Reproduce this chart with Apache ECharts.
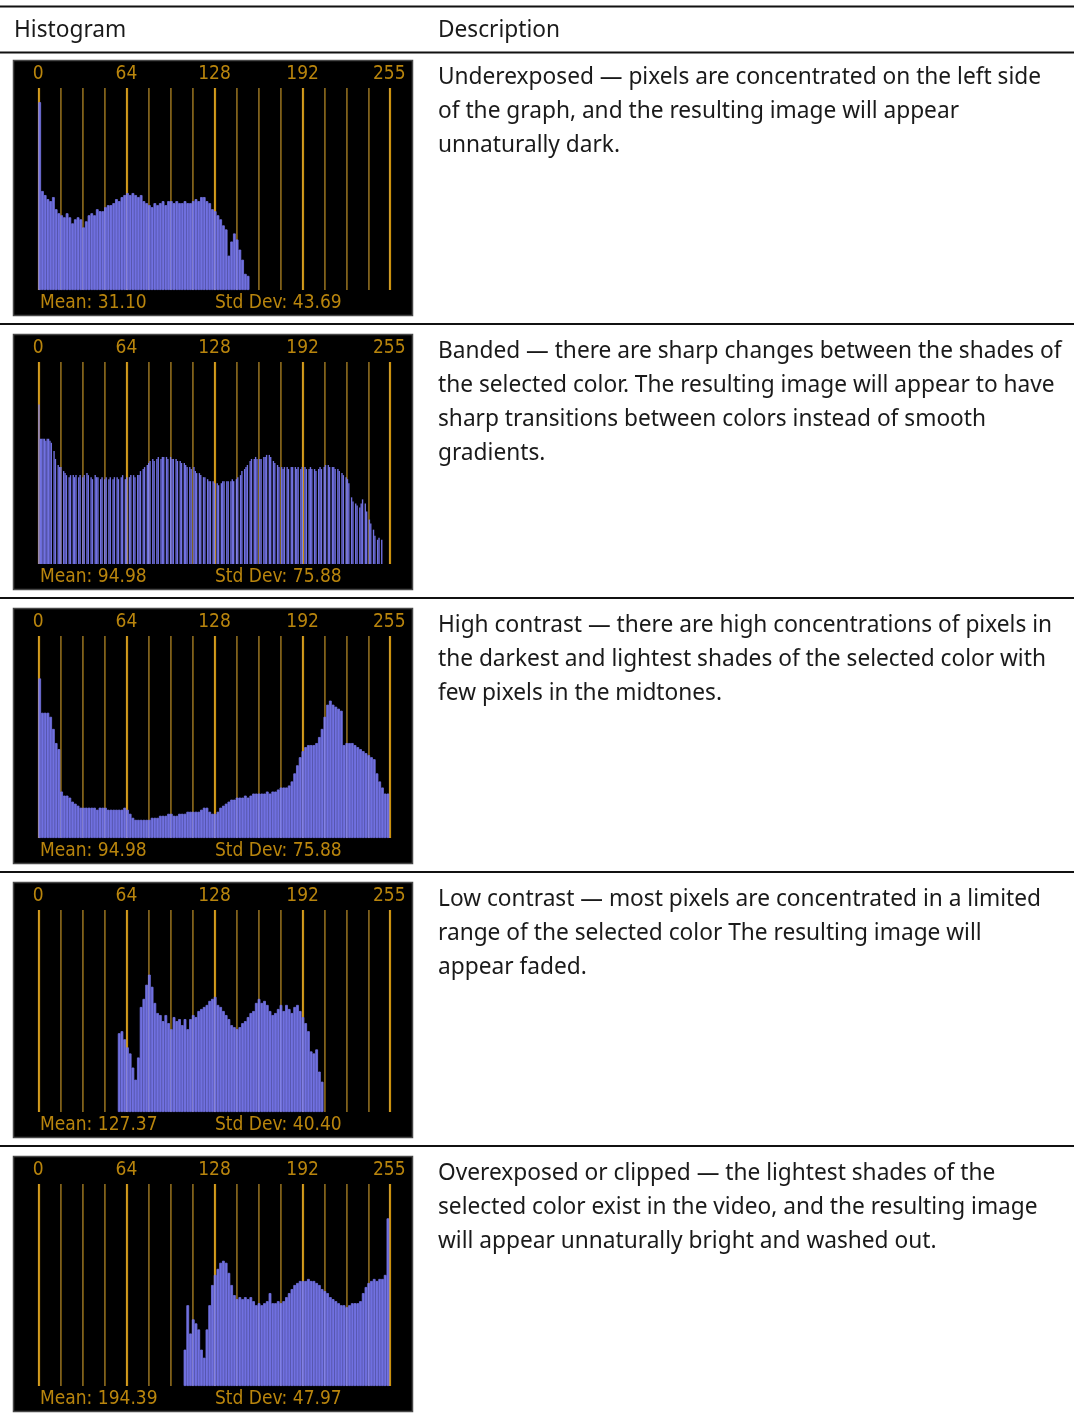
<!DOCTYPE html>
<html><head><meta charset="utf-8">
<script src="https://cdn.jsdelivr.net/npm/echarts@6/dist/echarts.min.js"></script>
<style>html,body{margin:0;padding:0;background:#fff}#c{width:1074px;height:1416px}</style>
</head><body><div id="c"></div><script>
// ---- data ----
const tickLabels = [0, 64, 128, 192, 255];
const gridLevels = [0, 16, 32, 48, 64, 80, 96, 112, 128, 144, 160, 176, 192, 208, 224, 240, 255];
const headers = ['Histogram', 'Description'];
const descriptions = [
  'Underexposed \u2014 pixels are concentrated on the left side\nof the graph, and the resulting image will appear\nunnaturally dark.',
  'Banded \u2014 there are sharp changes between the shades of\nthe selected color. The resulting image will appear to have\nsharp transitions between colors instead of smooth\ngradients.',
  'High contrast \u2014 there are high concentrations of pixels in\nthe darkest and lightest shades of the selected color with\nfew pixels in the midtones.',
  'Low contrast \u2014 most pixels are concentrated in a limited\nrange of the selected color The resulting image will\nappear faded.',
  'Overexposed or clipped \u2014 the lightest shades of the\nselected color exist in the video, and the resulting image\nwill appear unnaturally bright and washed out.'
];
const means = ['31.10', '94.98', '94.98', '127.37', '194.39'];
const stdDevs = ['43.69', '75.88', '75.88', '40.40', '47.97'];

// histogram counts (relative height, 2 levels per bin unless noted)
const underexposed = [
  93,49,47,45,44,46,40,38,37,36,38,36,33,35,36,35,
  31,34,37,38,37,40,39,39,41,42,42,43,45,44,46,47,
  48,47,48,47,46,47,44,43,42,41,43,42,43,44,42,44,
  44,43,44,43,43,44,43,43,44,45,44,46,46,44,43,40,
  39,37,35,32,30,17,24,28,25,20,15,8,7,0,0,0,
  0,0,0,0,0,0,0,0,0,0,0,0,0,0,0,0,
  0,0,0,0,0,0,0,0,0,0,0,0,0,0,0,0,
  0,0,0,0,0,0,0,0,0,0,0,0,0,0,0,0
];
// banded: one level per bin (256 bins), empty levels are 0
const banded = [
  79,62,62,62,62,61,62,62,61,60,0,56,52,0,49,48,
  48,0,46,45,44,0,43,44,0,44,43,44,0,43,44,0,
  43,44,0,45,44,0,43,42,0,44,43,43,0,42,43,0,
  42,43,0,42,43,0,42,43,0,43,42,0,43,44,0,42,
  43,0,43,44,0,44,43,0,44,44,46,0,47,48,0,49,
  50,51,0,52,51,0,52,53,0,52,53,53,0,53,52,0,
  53,52,52,0,52,51,0,51,50,0,50,49,48,0,48,47,
  0,48,46,45,0,45,44,0,43,43,0,42,41,41,0,41,
  40,0,40,39,0,40,41,41,0,41,41,0,41,42,41,0,
  42,43,0,44,46,0,47,48,49,0,51,52,0,52,53,52,
  0,52,52,0,53,53,54,0,54,53,0,51,50,0,49,48,
  0,48,47,48,0,48,47,0,48,48,0,48,47,48,0,47,
  48,0,48,47,0,47,48,47,0,47,46,0,47,48,47,0,
  48,49,0,49,48,0,48,48,47,0,47,46,0,45,44,0,
  43,42,40,0,33,31,0,30,29,0,28,30,32,0,30,26,
  0,22,20,0,17,14,0,12,13,0,12,0,0,0,0,0
];
const highContrast = [
  79,62,62,62,60,54,47,44,23,21,21,20,18,17,16,15,
  15,15,15,15,15,14,15,15,15,14,14,14,14,14,14,15,
  14,12,10,9,9,9,9,9,9,10,10,10,11,11,11,12,
  12,11,11,12,12,12,13,13,13,13,13,14,15,15,13,12,
  12,13,15,16,17,18,19,19,20,20,20,21,20,21,22,22,
  22,22,22,23,22,23,23,24,25,25,25,26,28,32,36,40,
  43,45,46,46,46,47,50,54,60,66,68,66,65,64,63,46,
  47,47,47,46,45,44,43,42,41,40,39,32,28,25,22,22
];
const lowContrast = [
  0,0,0,0,0,0,0,0,0,0,0,0,0,0,0,0,
  0,0,0,0,0,0,0,0,0,0,0,0,0,39,40,36,
  32,29,22,16,27,52,56,63,68,62,54,49,48,45,48,44,
  41,47,45,46,43,46,41,46,48,47,50,51,52,53,55,56,
  57,53,52,50,48,46,43,42,41,42,44,45,47,49,50,54,
  56,54,55,53,50,48,49,51,53,50,53,51,49,52,53,50,
  47,44,40,30,29,31,20,15,0,0,0,0,0,0,0,0,
  0,0,0,0,0,0,0,0,0,0,0,0,0,0,0,0
];
const overexposed = [
  0,0,0,0,0,0,0,0,0,0,0,0,0,0,0,0,
  0,0,0,0,0,0,0,0,0,0,0,0,0,0,0,0,
  0,0,0,0,0,0,0,0,0,0,0,0,0,0,0,0,
  0,0,0,0,0,18,40,26,33,31,28,18,14,28,40,50,
  55,58,61,62,61,56,50,45,43,44,43,44,43,44,42,40,
  41,40,41,42,46,41,41,42,41,42,44,46,48,50,51,52,
  52,52,53,52,52,51,50,48,47,46,44,43,42,41,40,40,
  39,40,41,41,41,42,46,49,51,52,53,52,53,53,55,83
];
const histograms = [underexposed, banded, highContrast, lowContrast, overexposed];

// ---- styling / layout ----
const ROW = 274, TOP0 = 60;
const barColor = '#7171e1';
const majorColor = '#c98f0c', minorColor = '#85600a', labelColor = '#b9850d';
const narrow = "'Liberation Sans Narrow','DejaVu Sans Condensed','Arial Narrow',sans-serif";
const bodyFont = "'Noto Sans','Open Sans',sans-serif";
const bodySize = 22.7;

const grids = [], xAxes = [], yAxes = [], series = [], graphics = [];
graphics.push({type:'line', shape:{x1:0,y1:6.5,x2:1074,y2:6.5}, style:{stroke:'#111',lineWidth:2}, z:10});
graphics.push({type:'line', shape:{x1:0,y1:52.5,x2:1074,y2:52.5}, style:{stroke:'#111',lineWidth:2}, z:10});
graphics.push({type:'text', x:14, y:31, style:{text:headers[0], fill:'#1a1a1a', fontSize:bodySize, fontFamily:bodyFont, verticalAlign:'middle'}, z:10});
graphics.push({type:'text', x:438, y:31, style:{text:headers[1], fill:'#1a1a1a', fontSize:bodySize, fontFamily:bodyFont, verticalAlign:'middle'}, z:10});

histograms.forEach((h, k) => {
  const T = TOP0 + ROW * k;
  const isBanded = h.length > 128;
  const bw = isBanded ? 0 : 0.8;
  if (k > 0) graphics.push({type:'line', shape:{x1:0,y1:T-10,x2:1074,y2:T-10}, style:{stroke:'#111',lineWidth:2}, z:10});
  graphics.push({type:'rect', shape:{x:13.5,y:T+0.5,width:399,height:255}, style:{fill:'#000',stroke:'#474747',lineWidth:1.5}, z:-10});
  graphics.push({type:'text', x:40, y:T+243, style:{text:'Mean: ' + means[k], fill:labelColor, fontSize:19, fontFamily:narrow, verticalAlign:'middle'}, z:10});
  graphics.push({type:'text', x:215, y:T+243, style:{text:'Std Dev: ' + stdDevs[k], fill:labelColor, fontSize:19, fontFamily:narrow, verticalAlign:'middle'}, z:10});
  graphics.push({type:'text', x:438, y:T+1, style:{text:descriptions[k], fill:'#1a1a1a', fontSize:bodySize, lineHeight:34, fontFamily:bodyFont, verticalAlign:'top'}, z:10});

  grids.push({left:38.3, top:T+28, width:351, height:202});
  xAxes.push({type:'value', gridIndex:k, min:0, max:255, position:'top',
    axisLine:{show:false}, axisTick:{show:false}, splitLine:{show:false},
    axisLabel:{customValues:tickLabels, color:labelColor, fontSize:19, fontFamily:narrow, margin:4}});
  xAxes.push({type:'category', gridIndex:k, data:h.map((_, i) => i), show:false});
  yAxes.push({type:'value', gridIndex:k, min:0, max:100, show:false});

  const lineData = gridLevels.map(v => ({xAxis:v, lineStyle:{
    color: tickLabels.includes(v) ? majorColor : minorColor,
    width: tickLabels.includes(v) ? 2.2 : 1.6, type:'solid'}}));
  series.push({type:'line', xAxisIndex:2*k, yAxisIndex:k, data:[[0,0]], showSymbol:false,
    lineStyle:{opacity:0}, z:1, silent:true,
    markLine:{silent:true, symbol:'none', z:1, label:{show:false}, animation:false, data:lineData}});
  series.push({type:'bar', xAxisIndex:2*k+1, yAxisIndex:k,
    data:h.map(v => v > 0 ? v : {value:v, itemStyle:{borderWidth:0, opacity:0}}),
    barCategoryGap:'0%', barGap:'0%',
    itemStyle:{color:barColor, borderColor:barColor, borderWidth:bw}, z:2, silent:true});
  series.push({type:'line', xAxisIndex:2*k, yAxisIndex:k, data:[[0,0]], showSymbol:false,
    lineStyle:{opacity:0}, z:3, silent:true,
    markLine:{silent:true, symbol:'none', z:3, label:{show:false}, animation:false,
      data:gridLevels.map(v => ({xAxis:v, lineStyle:{color:'rgba(255,255,255,0.12)', width:1, type:'solid'}}))}});
});

const chart = echarts.init(document.getElementById('c'), null, {renderer:'canvas'});
chart.setOption({
  animation:false, backgroundColor:'#fff',
  grid:grids, xAxis:xAxes, yAxis:yAxes, series:series, graphic:{elements:graphics}
});
</script></body></html>
